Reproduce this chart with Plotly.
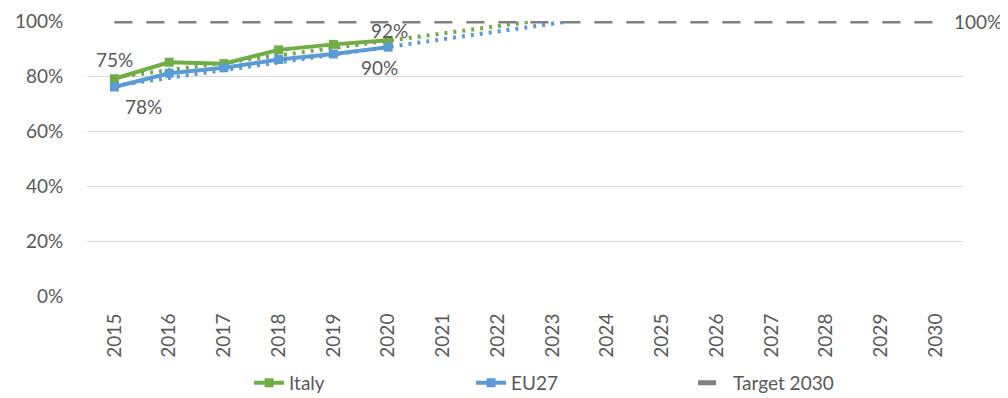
import plotly.graph_objects as go

years = list(range(2015, 2031))
year_labels = [str(y) for y in years]

data_years = [2015, 2016, 2017, 2018, 2019, 2020]
italy = [79, 85, 84.5, 89.5, 91.5, 93]
eu27 = [76, 81, 83, 86, 88, 90.5]

italy_trend_x = [2015, 2022.7]
italy_trend_y = [79.5, 100]
eu27_trend_x = [2015, 2023.35]
eu27_trend_y = [76.5, 100]

target_x = [2015, 2030]
target_y = [100, 100]

y_ticks = [0, 20, 40, 60, 80, 100]
y_tick_labels = ["0%", "20%", "40%", "60%", "80%", "100%"]

GREEN = "#70AD47"
BLUE = "#5B9BD5"
GRAY = "#7F7F7F"
TXT = "#595959"
FONT = "Lato"

fig = go.Figure()

fig.add_trace(go.Scatter(x=italy_trend_x, y=italy_trend_y, mode="lines",
                         line=dict(color=GREEN, width=4, dash="3px,6px"),
                         showlegend=False, hoverinfo="skip"))
fig.add_trace(go.Scatter(x=eu27_trend_x, y=eu27_trend_y, mode="lines",
                         line=dict(color=BLUE, width=4, dash="3px,6px"),
                         showlegend=False, hoverinfo="skip"))

fig.add_trace(go.Scatter(x=data_years, y=italy, mode="lines+markers", name="Italy",
                         line=dict(color=GREEN, width=4),
                         marker=dict(symbol="square", size=9, color=GREEN)))
fig.add_trace(go.Scatter(x=data_years, y=eu27, mode="lines+markers", name="EU27",
                         line=dict(color=BLUE, width=4),
                         marker=dict(symbol="square", size=9, color=BLUE)))
fig.add_trace(go.Scatter(x=target_x, y=target_y, mode="lines", name="Target 2030",
                         line=dict(color=GRAY, width=5, dash="18px,14px")))

labels = [
    (data_years[0], italy[0], "75%", 0, 19),
    (data_years[0], eu27[0], "78%", 29, -19),
    (data_years[5], italy[5], "92%", 1, 10),
    (data_years[5], eu27[5], "90%", -9, -20),
    (target_x[1], target_y[1], "100%", 42, 0),
]
for x, y, t, dx, dy in labels:
    fig.add_annotation(x=x, y=y, text=t, showarrow=False, xshift=dx, yshift=dy,
                       xanchor="center", yanchor="middle",
                       font=dict(family=FONT, size=19, color=TXT))

# page body has an 8px margin, so the figure is 1000x390 and offset by 8px
fig.update_layout(
    width=1000, height=390,
    margin=dict(l=79, r=45, t=13, b=102, autoexpand=False),
    paper_bgcolor="white", plot_bgcolor="white",
    font=dict(family=FONT, size=19, color=TXT),
    legend=dict(orientation="h", x=0.185, xanchor="left", y=-0.316, yanchor="middle",
                entrywidth=177, entrywidthmode="pixels",
                font=dict(family=FONT, size=19, color=TXT)),
)
fig.update_xaxes(range=[2014.5, 2030.5], tickvals=years, ticktext=year_labels,
                 tickangle=-90, showgrid=False, zeroline=False, showline=False,
                 ticks="outside", ticklen=9, tickcolor="rgba(0,0,0,0)", automargin=False)
fig.update_yaxes(range=[0, 100], tickvals=y_ticks, ticktext=y_tick_labels,
                 showgrid=True, gridcolor="#D9D9D9", gridwidth=1, zeroline=False,
                 showline=False, ticks="outside", ticklen=19, tickcolor="rgba(0,0,0,0)",
                 automargin=False)

fig.write_html("out.html")
